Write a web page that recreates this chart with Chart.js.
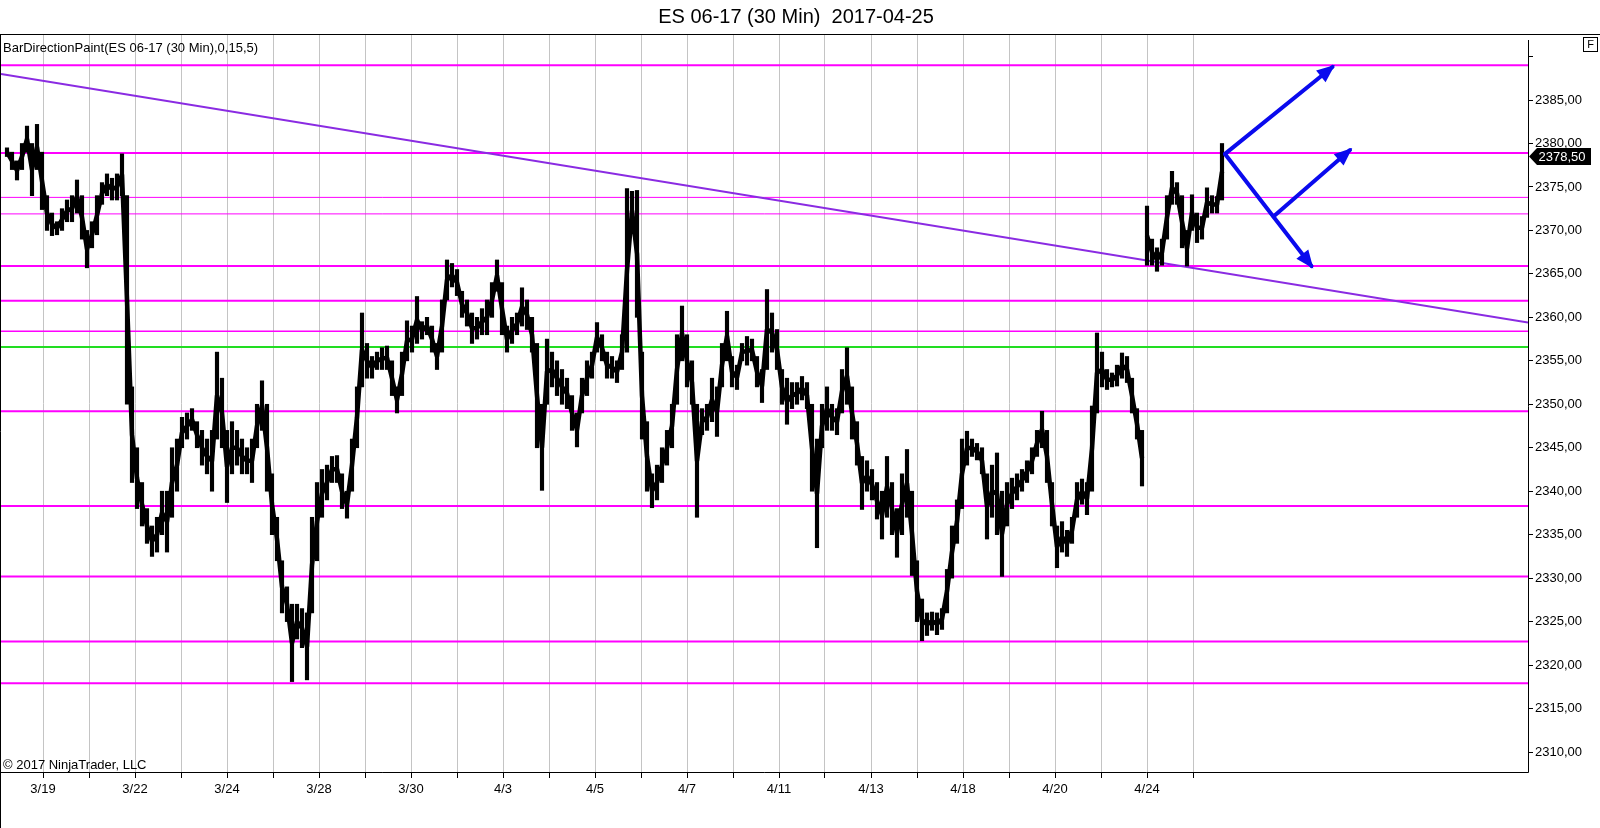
<!DOCTYPE html>
<html>
<head>
<meta charset="utf-8">
<script src="https://cdn.jsdelivr.net/npm/chart.js@4.4.1/dist/chart.umd.min.js"></script>
<style>
html,body{margin:0;padding:0;background:#fff;overflow:hidden;}
canvas{display:block;}
</style>
</head>
<body>
<canvas id="c" width="1600" height="828"></canvas>
<script>
// ---- data (30-min ES bars, aggregated; index = bar slot) ----
const barLow = [
2378.5,2377,2375.8,2377,2379,2374,2377,2372.4,2370,2369.4,2369.5,2370,2371,2371,2372,2369,2365.7,2368,2369.5,2373,2374,2373.5,2373.5,2374,2350,
2341,2338,2336,2334,2332.5,2333,2335,2333,2337,2340,2345,2346,2347,2345,2343,2342,2340,2346,2345,2338.7,2342,2343,2342,2342,2341,2345,2347,2340,2335,2332,2326,2325,2318.1,2323,2322,2318.3,2326,2332,
2337,2339,2341,2341,2338,2336.9,2340,2345,2352,2353,2353,2354,2354,2354,2351,2349,2351,2355,2356,2357,2357.5,2358,2356,2354,2356,2362,2363.5,2362.5,2360,2359,2357,2357.5,2358,2358,2360,2363,2358,2356,2357,2358,2359,2358.6,2356,2345,2340.1,2350,2352,2351,2350,2349.5,2347,2345.1,2349,2351,2353,2356,2355,2353,2353,2352.5,2354,
2356,2370,2360,2346,2340,2338.1,2339,2341,2343,2345,2350,2355,2352,2350,2337,2346.5,2347,2348,2346.3,2352,2355,2352,2351.7,2355,2354.5,2355,2352,2350.2,2354,2356,2354,2350,2347.7,2349.5,2350,2350.5,2349.5,2340,2333.5,2345,2347,2347,2346.5,2349,2350,2346,2343,2337.9,2340,2339,2336.8,2334.5,2337,2335,2332.4,2335,2337,2330.3,2325,2322.8,2323.4,2324,2323.5,
2324.1,2326,2330,2334,2338,2343,2344,2343.6,2342,2334.5,2337,2335,2330.2,2336,2338,2339,2340,2341,2342,2344,2345,2341,2336,2331.2,2333,2332.5,2334,2337,2338.5,2337.3,2340,2349,2352,2351.7,2352,2352.1,2353,2352.5,2349,2346,2340.6,
2366,2366,2365.3,2366,2369,2373,2373,2368,2365.9,2370,2368.6,2369,2371.5,2372,2372,2373.5
];
const barHigh = [
2379.5,2379,2378,2380,2382,2380,2382.2,2379,2374,2372,2371,2372.5,2373.5,2374,2375.8,2374,2370,2371,2374,2375.5,2376.5,2376,2376.5,2378.8,2374,
2352,2345,2341,2338,2336,2337,2340,2340,2345,2346,2348.5,2349,2349.5,2348,2347,2346,2347,2356,2353,2347,2348,2347,2346,2345,2346,2350,2352.7,2350,2342,2337,2332,2329,2327,2327,2326.5,2326,2337,2341,
2342.5,2343,2344,2344.1,2342,2340,2346,2352,2360.5,2357,2355.5,2356,2356.5,2356.7,2355,2352,2356,2359.6,2359,2362.4,2359.5,2360,2359,2357,2362,2366.6,2366.2,2365.5,2363,2362,2360.5,2360,2361,2362,2364,2366.6,2364,2359,2360,2360.5,2363.4,2362,2360,2357,2350,2357.5,2356,2355,2354,2353,2351,2349,2353,2355,2356,2359.4,2358,2356,2355.5,2355,2358,
2374.8,2374.5,2374.6,2356,2348,2342,2343,2345,2347,2350,2358,2361.3,2358,2355,2350,2349.5,2350,2353,2352,2357,2360.7,2355.5,2354.5,2357,2357.8,2357.5,2355.5,2354,2363.2,2360.5,2358.6,2354,2353,2352.5,2352.5,2353.2,2352.5,2350,2346,2350,2352,2350,2349.5,2354,2356.5,2352,2348,2344,2343.5,2342.5,2341,2340,2344,2341,2338,2342,2344.8,2340,2332,2327.6,2326,2326.1,2326,
2326.5,2331,2336,2339,2346,2346.9,2346,2345.5,2345,2342,2343,2344.4,2340,2341,2341.5,2342,2342.5,2343.5,2345,2347,2349.2,2347,2341,2336,2336.5,2335.5,2337,2341,2341.4,2341,2349.8,2358.2,2356,2354,2353.6,2354.5,2355.9,2355.5,2353,2349.5,2347,
2372.8,2369,2368,2369,2374,2376.8,2375.5,2374,2370,2374.1,2372,2371.6,2374.9,2374,2373.9,2380
];
const lastPrice = 2378.50;
const sessionBreakAfter = 227; // last slot before the 4/24 weekend gap

const xTickPos = [7.2,16.4,25.6,34.8,44,53.2,62.4,71.6,80.8,90,99.2,108.4,117.6,126.8,136,145.2,154.4,163.6,172.8,182,191.2,200.4,209.6,218.8,228,237.2];
const xTickLabels = ['3/19','','3/22','','3/24','','3/28','','3/30','','4/3','','4/5','','4/7','','4/11','','4/13','','4/18','','4/20','','4/24',''];
const yTickValues = [2310,2315,2320,2325,2330,2335,2340,2345,2350,2355,2360,2365,2370,2375,2380,2385,2390];

const levelPrices = [2389.0,2378.9,2373.8,2371.9,2365.9,2361.9,2358.4,2349.2,2338.3,2330.2,2322.7,2317.9];
const levelWidths = [2,2,1,1,2,2,1.5,2,2,2,2,2];
const greenLevel = 2356.6;

const trendStart = {x:-1.2, y:2388.0};
const trendEnd = {x:304.2, y:2359.4};

const arrowStart = {x:243.6, y:2378.8};
const arrowBranch = {x:253.3, y:2371.6};
const arrowTipUp = {x:265.1, y:2388.8};
const arrowTipMid = {x:268.6, y:2379.25};
const arrowTipDown = {x:260.9, y:2365.9};

const X_MIN = -1.2, X_MAX = 304.2, Y_MIN = 2307.70, Y_MAX = 2392.48;
const FONT = '"Liberation Sans", Arial, sans-serif';

// ---- datasets ----
const datasets = [];
levelPrices.forEach((p, i) => {
  datasets.push({type:'line', data:[{x:X_MIN,y:p},{x:X_MAX,y:p}], borderColor:'#ff00ff', borderWidth:levelWidths[i], pointRadius:0, order:6});
});
datasets.push({type:'line', data:[{x:X_MIN,y:greenLevel},{x:X_MAX,y:greenLevel}], borderColor:'#22dd22', borderWidth:2, pointRadius:0, order:6});
datasets.push({type:'line', data:[trendStart, trendEnd], borderColor:'#8a2be2', borderWidth:2, pointRadius:0, order:5});
// price ribbon through bar mid-ranges, broken at the weekend gap
datasets.push({type:'line', data:barLow.map((lo,i)=>({x:i, y:(lo + barHigh[i]) / 2})), borderColor:'#000', borderWidth:4.5, pointRadius:0, order:4,
  borderJoinStyle:'round',
  segment:{borderColor:(c)=> c.p0DataIndex === sessionBreakAfter ? 'rgba(0,0,0,0)' : undefined}});
datasets.push({type:'bar', data:barLow.map((lo,i)=>({x:i, y:[lo, barHigh[i]]})), backgroundColor:'#000', borderWidth:0, barThickness:3.5, order:3});
const arrowStyle = {type:'line', borderColor:'#0a0aee', borderWidth:4, pointRadius:0, order:1, arrow:true, borderCapStyle:'round'};
datasets.push(Object.assign({data:[arrowStart, arrowTipUp]}, arrowStyle));
datasets.push(Object.assign({data:[arrowStart, arrowTipDown]}, arrowStyle));
datasets.push(Object.assign({data:[arrowBranch, arrowTipMid]}, arrowStyle));

const decor = {
  id:'decor',
  beforeDraw(chart){
    const ctx = chart.ctx;
    ctx.save(); ctx.fillStyle='#fff'; ctx.fillRect(0,0,chart.width,chart.height); ctx.restore();
  },
  afterDatasetsDraw(chart){
    const ctx = chart.ctx;
    chart.data.datasets.forEach((ds, di) => {
      if (!ds.arrow) return;
      const pts = chart.getDatasetMeta(di).data;
      const a = pts[pts.length-2], b = pts[pts.length-1];
      const ang = Math.atan2(b.y - a.y, b.x - a.x);
      const tipX = b.x + 3*Math.cos(ang), tipY = b.y + 3*Math.sin(ang);
      const L = 18, W = 7.5;
      const bx = tipX - L*Math.cos(ang), by = tipY - L*Math.sin(ang);
      ctx.save();
      ctx.fillStyle = ds.borderColor;
      ctx.beginPath();
      ctx.moveTo(tipX, tipY);
      ctx.lineTo(bx + W*Math.sin(ang), by - W*Math.cos(ang));
      ctx.lineTo(bx - W*Math.sin(ang), by + W*Math.cos(ang));
      ctx.closePath();
      ctx.fill();
      ctx.restore();
    });
  },
  afterDraw(chart){
    const ctx = chart.ctx;
    const ys = chart.scales.y;
    ctx.save();
    ctx.strokeStyle = '#000'; ctx.lineWidth = 1;
    ctx.beginPath();
    ctx.moveTo(0, 34.5); ctx.lineTo(1600, 34.5);
    ctx.moveTo(0.5, 34.5); ctx.lineTo(0.5, 828);
    ctx.moveTo(0, 772.5); ctx.lineTo(1528.5, 772.5);
    ctx.moveTo(1528.5, 40); ctx.lineTo(1528.5, 772.5);
    ctx.stroke();
    // F box
    ctx.strokeRect(1583.5, 37.5, 14, 14);
    ctx.fillStyle = '#000';
    ctx.font = '11px ' + FONT; ctx.textAlign = 'center'; ctx.textBaseline = 'middle';
    ctx.fillText('F', 1590.5, 45);
    // texts
    ctx.textBaseline = 'alphabetic';
    ctx.font = '20px ' + FONT; ctx.textAlign = 'center';
    ctx.fillText('ES 06-17 (30 Min)  2017-04-25', 796, 23);
    ctx.font = '13px ' + FONT; ctx.textAlign = 'left';
    ctx.fillText('BarDirectionPaint(ES 06-17 (30 Min),0,15,5)', 3, 52);
    ctx.fillText('\u00A9 2017 NinjaTrader, LLC', 3, 769);
    // price tag
    const yp = ys.getPixelForValue(lastPrice);
    ctx.fillStyle = '#000';
    ctx.beginPath();
    ctx.moveTo(1529, yp);
    ctx.lineTo(1537, yp - 8.5);
    ctx.lineTo(1591, yp - 8.5);
    ctx.lineTo(1591, yp + 8.5);
    ctx.lineTo(1537, yp + 8.5);
    ctx.closePath(); ctx.fill();
    ctx.fillStyle = '#fff'; ctx.font = '13px ' + FONT; ctx.textAlign = 'center'; ctx.textBaseline = 'middle';
    ctx.fillText(lastPrice.toFixed(2).replace('.', ','), 1562, yp + 0.5);
    ctx.restore();
  }
};

Chart.defaults.font.family = FONT;
Chart.defaults.font.size = 13;
Chart.defaults.color = '#000';

new Chart(document.getElementById('c'), {
  type:'bar',
  data:{datasets},
  options:{
    responsive:false, animation:false, devicePixelRatio:1,
    layout:{padding:{top:35,left:1,right:0,bottom:0}, autoPadding:false},
    plugins:{legend:{display:false}, tooltip:{enabled:false}, title:{display:false}},
    events:[],
    scales:{
      x:{
        type:'linear', min:X_MIN, max:X_MAX, offset:false,
        afterBuildTicks(s){ s.ticks = xTickPos.map(v=>({value:v})); },
        afterFit(s){ s.height = 56; },
        ticks:{autoSkip:false, maxRotation:0, minRotation:0, padding:4, font:{size:13}, callback:(v,i)=>xTickLabels[i]},
        grid:{offset:false, color:'#c4c4c4', lineWidth:1, tickLength:6, tickColor:'#000', tickWidth:1},
        border:{display:false}
      },
      y:{
        type:'linear', position:'right', min:Y_MIN, max:Y_MAX,
        afterBuildTicks(s){ s.ticks = yTickValues.map(v=>({value:v})); },
        afterFit(s){ s.width = 72; },
        ticks:{autoSkip:false, padding:2, font:{size:13}, crossAlign:'near',
          callback:(v)=> v === 2390 ? '' : Number(v).toFixed(2).replace('.', ',')},
        grid:{drawOnChartArea:false, tickLength:5, tickColor:'#000', tickWidth:1},
        border:{display:false}
      }
    }
  },
  plugins:[decor]
});
</script>
</body>
</html>
